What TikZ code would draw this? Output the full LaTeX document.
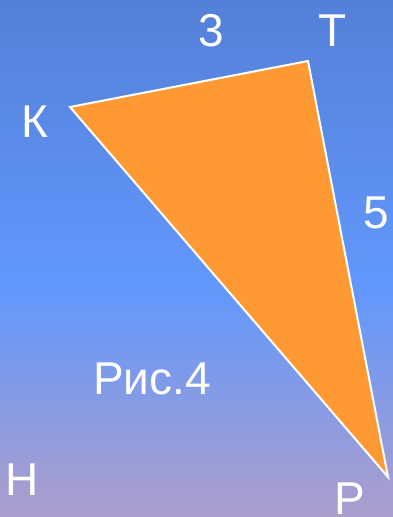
\documentclass[tikz,border=0pt]{standalone}
\usepackage{fontspec}
\setmainfont{Liberation Sans}
\definecolor{bgtop}{RGB}{84,128,216}
\definecolor{bgmid}{RGB}{98,152,252}
\definecolor{bgbot}{RGB}{172,158,204}
\definecolor{triorange}{RGB}{255,153,51}
\tikzset{
  lbl/.style={text=white, inner sep=0pt, font=\fontsize{46}{50}\selectfont},
  tri/.style={fill=triorange, draw=white, line width=2pt, line join=miter}
}
\begin{document}
\begin{tikzpicture}[x=1pt,y=-1pt]
\useasboundingbox (0,0) rectangle (393,517);
\shade[top color=bgtop, bottom color=bgmid] (0,0) rectangle (393,290.5);
\shade[top color=bgmid, bottom color=bgbot] (0,290) rectangle (393,517);
\coordinate (K) at (70,107);
\coordinate (T) at (308,61);
\coordinate (P) at (388,477);
\filldraw[tri] (K) -- (T) -- (P) -- cycle;
\node[lbl] (lK) at (35,122) {К};
\node[lbl] (lT) at (333,31) {Т};
\node[lbl] (l3) at (211,31) {3};
\node[lbl] (l5) at (376,213) {5};
\node[lbl] (fig) at (152,379) {Рис.4};
\node[lbl] (lH) at (22,480) {Н};
\node[lbl] (lP) at (350,499) {Р};
\end{tikzpicture}
\end{document}
